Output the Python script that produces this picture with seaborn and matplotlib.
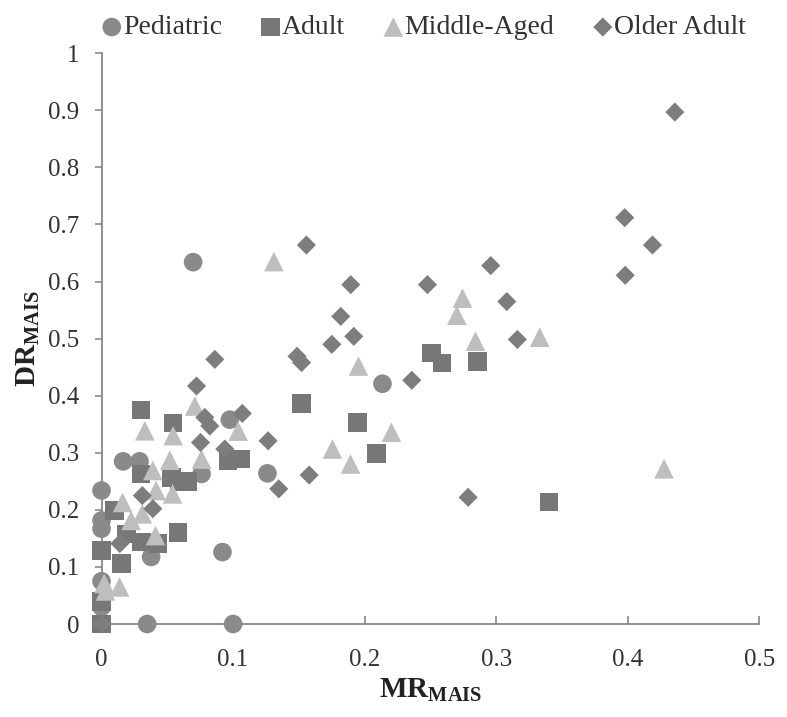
import matplotlib
matplotlib.use("Agg")
import matplotlib.pyplot as plt
import seaborn as sns
import pandas as pd

# ---- data ----
ped_x = [0.0696, 0.2135, 0.0975, 0.1261, 0.076, 0.0919, 0.0347, 0.1, 0.0, 0.0164, 0.0289, 0.0, 0.0, 0.0377, 0.0, 0.0]
ped_y = [0.634, 0.421, 0.358, 0.264, 0.263, 0.126, 0.0, 0.0, 0.234, 0.285, 0.285, 0.1815, 0.167, 0.1175, 0.075, 0.03]

adult_x = [0.0299, 0.0544, 0.096, 0.106, 0.030, 0.053, 0.0595, 0.0658, 0.0099, 0.058, 0.0428, 0.019, 0.0304,
           0.0, 0.015, 0.0, 0.0, 0.1522, 0.1943, 0.209, 0.2508, 0.2588, 0.2857, 0.340]
adult_y = [0.3747, 0.352, 0.286, 0.289, 0.263, 0.257, 0.250, 0.250, 0.199, 0.160, 0.141, 0.158, 0.1437,
           0.129, 0.106, 0.039, 0.0, 0.386, 0.353, 0.299, 0.475, 0.457, 0.460, 0.2135]

mid_x = [0.131, 0.0709, 0.0329, 0.0544, 0.1038, 0.076, 0.0519, 0.039, 0.0415, 0.054, 0.016, 0.031, 0.0225,
         0.041, 0.002, 0.0137, 0.003, 0.1953, 0.2203, 0.1755, 0.1892, 0.2743, 0.270, 0.2842, 0.333, 0.4275]
mid_y = [0.635, 0.382, 0.3386, 0.33, 0.338, 0.289, 0.287, 0.269, 0.234, 0.228, 0.213, 0.193, 0.1815,
         0.155, 0.071, 0.065, 0.058, 0.452, 0.336, 0.3066, 0.2804, 0.571, 0.541, 0.4956, 0.5026, 0.272]

old_x = [0.4357, 0.3976, 0.4187, 0.398, 0.2958, 0.308, 0.316, 0.1557, 0.1894, 0.2477, 0.1818, 0.1917, 0.175,
         0.1486, 0.152, 0.2358, 0.107, 0.1266, 0.1578, 0.1347, 0.2786, 0.0861, 0.0722, 0.0785, 0.0823,
         0.0752, 0.0937, 0.031, 0.039, 0.0139, 0.0]
old_y = [0.897, 0.712, 0.664, 0.611, 0.628, 0.565, 0.4986, 0.664, 0.5946, 0.5946, 0.539, 0.504, 0.49,
         0.469, 0.458, 0.427, 0.369, 0.321, 0.261, 0.2368, 0.222, 0.4637, 0.417, 0.362, 0.347,
         0.318, 0.3066, 0.225, 0.202, 0.141, 0.0]

groups = ["Pediatric", "Adult", "Middle-Aged", "Older Adult"]
xs = [ped_x, adult_x, mid_x, old_x]
ys = [ped_y, adult_y, mid_y, old_y]

x_ticks = [0, 0.1, 0.2, 0.3, 0.4, 0.5]
x_labels = ["0", "0.1", "0.2", "0.3", "0.4", "0.5"]
y_ticks = [0, 0.1, 0.2, 0.3, 0.4, 0.5, 0.6, 0.7, 0.8, 0.9, 1.0]
y_labels = ["0", "0.1", "0.2", "0.3", "0.4", "0.5", "0.6", "0.7", "0.8", "0.9", "1"]

rows = []
for g, gx, gy in zip(groups, xs, ys):
    for a, b in zip(gx, gy):
        rows.append({"MR": a, "DR": b, "Group": g})
df = pd.DataFrame(rows)

# ---- style ----
sns.set_style("white")
plt.rcParams["font.family"] = ["Liberation Serif", "DejaVu Serif"]
plt.rcParams["mathtext.fontset"] = "custom"
plt.rcParams["mathtext.rm"] = "Liberation Serif"
plt.rcParams["mathtext.bf"] = "Liberation Serif:bold"

colors = {"Pediatric": "#8a8a8a", "Adult": "#777777", "Middle-Aged": "#bebebe", "Older Adult": "#7d7d7d"}
markers = {"Pediatric": "o", "Adult": "s", "Middle-Aged": "^", "Older Adult": "D"}
sizes = {"Pediatric": 180, "Adult": 180, "Middle-Aged": 200, "Older Adult": 95}

fig = plt.figure(figsize=(7.87, 7.17), dpi=100)
ax = fig.add_axes([0.129, 0.1297, 0.836, 0.796])

for g in groups:
    sub = df[df["Group"] == g]
    sns.scatterplot(data=sub, x="MR", y="DR", ax=ax, marker=markers[g], s=sizes[g],
                    color=colors[g], edgecolor="none", linewidth=0, label=g, clip_on=False, zorder=3)

ax.set_xlim(0, 0.5)
ax.set_ylim(0, 1)
ax.set_xticks(x_ticks)
ax.set_xticklabels(x_labels)
ax.set_yticks(y_ticks)
ax.set_yticklabels(y_labels)

for s in ["top", "right"]:
    ax.spines[s].set_visible(False)
for s in ["left", "bottom"]:
    ax.spines[s].set_color("#888888")
    ax.spines[s].set_linewidth(1.3)

ax.tick_params(axis="y", direction="out", length=5, width=1.2, color="#888888", labelsize=18,
               labelcolor="#333333", pad=11, left=True)
ax.tick_params(axis="x", direction="in", length=6, width=1.2, color="#888888", labelsize=18,
               labelcolor="#333333", pad=18, bottom=True)

ax.set_xlabel(r"$\mathbf{MR_{MAIS}}$", fontsize=21, labelpad=4, color="#222222")
ax.set_ylabel(r"$\mathbf{DR_{MAIS}}$", fontsize=21, labelpad=4, color="#222222")

leg = ax.legend(loc="center", bbox_to_anchor=(0.49, 1.045), ncol=4, frameon=False,
                fontsize=20, handlelength=0.7, handletextpad=0.05, columnspacing=1.4, markerscale=1.0,
                borderaxespad=0, borderpad=0)
for t in leg.get_texts():
    t.set_color("#333333")

fig.savefig("out.png", dpi=100)
